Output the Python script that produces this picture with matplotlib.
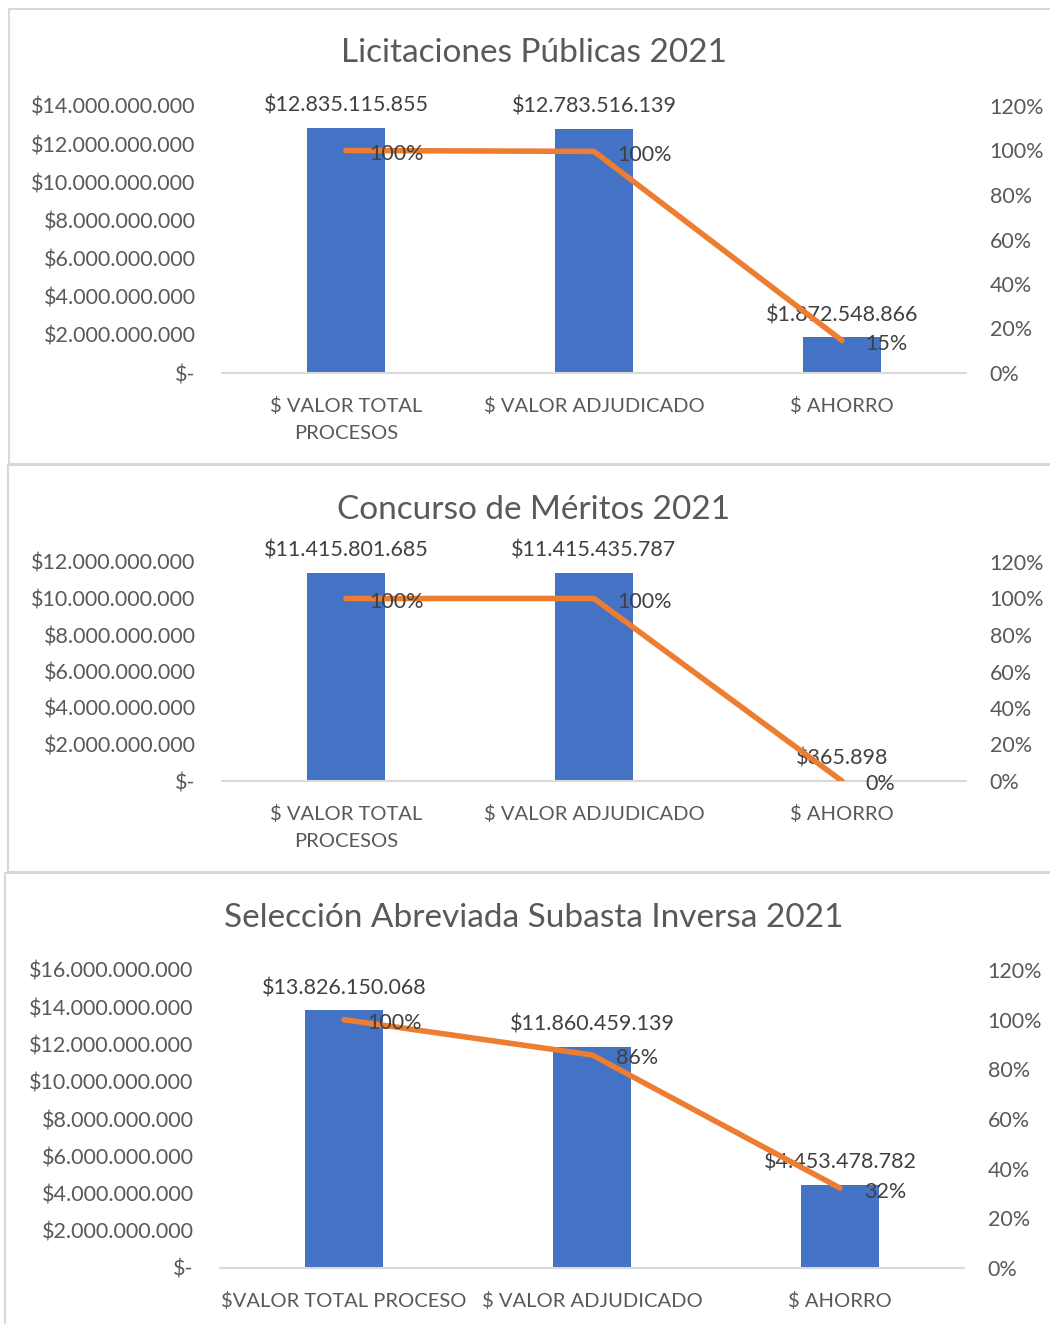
import matplotlib
matplotlib.use("Agg")
import matplotlib.pyplot as plt
from matplotlib.patches import Rectangle

plt.rcParams['font.family'] = ['Lato', 'DejaVu Sans']

# ---------------- data ----------------
titles = ["Licitaciones Públicas 2021",
          "Concurso de Méritos 2021",
          "Selección Abreviada Subasta Inversa 2021"]

categories_1 = ["$ VALOR TOTAL\nPROCESOS", "$ VALOR ADJUDICADO", "$ AHORRO"]
categories_2 = ["$ VALOR TOTAL\nPROCESOS", "$ VALOR ADJUDICADO", "$ AHORRO"]
categories_3 = ["$VALOR TOTAL PROCESO", "$ VALOR ADJUDICADO", "$ AHORRO"]

values_1 = [12835115855, 12783516139, 1872548866]
values_2 = [11415801685, 11415435787, 365898]
values_3 = [13826150068, 11860459139, 4453478782]

percent_1 = [1.00, 0.996, 0.146]
percent_2 = [1.00, 0.99997, 0.00003]
percent_3 = [1.00, 0.858, 0.322]

yticks_1 = [0, 2e9, 4e9, 6e9, 8e9, 10e9, 12e9, 14e9]
yticks_2 = [0, 2e9, 4e9, 6e9, 8e9, 10e9, 12e9]
yticks_3 = [0, 2e9, 4e9, 6e9, 8e9, 10e9, 12e9, 14e9, 16e9]
pct_ticks = [0, 0.2, 0.4, 0.6, 0.8, 1.0, 1.2]

# ---------------- style ----------------
W, H = 1050, 1324
BAR = "#4472C4"
LINE = "#ED7D31"
TXT = "#595959"
LBL = "#404040"
GRID = "#D9D9D9"
FS = 15.5
FSX = 14.5

fig = plt.figure(figsize=(W / 100, H / 100), dpi=100)


def frac_rect(left, top, right, bottom):
    return [left / W, 1 - bottom / H, (right - left) / W, (bottom - top) / H]


def money(v):
    if v == 0:
        return "$-"
    return "$" + f"{v:,.0f}".replace(",", ".")


# panel borders
for (l, t, r, b) in [(9, 9, 1060, 464), (8, 465, 1060, 872), (5, 873, 1060, 1340)]:
    fig.add_artist(Rectangle((l / W, 1 - b / H), (r - l) / W, (b - t) / H,
                             transform=fig.transFigure, fill=False,
                             edgecolor=GRID, linewidth=1.5))

panels = [
    (titles[0], categories_1, values_1, percent_1, yticks_1, (222, 106, 966, 373), 53),
    (titles[1], categories_2, values_2, percent_2, yticks_2, (222, 562, 966, 781), 510),
    (titles[2], categories_3, values_3, percent_3, yticks_3, (220, 970, 964, 1268), 918),
]

for title, cats, vals, pcts, yt, box, ty in panels:
    ax = fig.add_axes(frac_rect(*box))
    x = list(range(len(cats)))
    ax.bar(x, vals, width=0.315, color=BAR, zorder=2)
    ax.set_xlim(-0.5, 2.5)
    ax.set_ylim(yt[0], yt[-1])
    ax.set_yticks(yt)
    ax.set_yticklabels([money(v) for v in yt])
    ax.set_xticks(x)
    ax.set_xticklabels(cats, linespacing=1.75)
    ax.tick_params(axis='y', length=0, pad=19, labelsize=FS, labelcolor=TXT)
    ax.tick_params(axis='x', length=0, pad=17, labelsize=FSX, labelcolor=TXT)
    for s in ["top", "left", "right"]:
        ax.spines[s].set_visible(False)
    ax.spines["bottom"].set_color(GRID)
    ax.spines["bottom"].set_linewidth(1.5)
    for xi, v in zip(x, vals):
        ax.annotate(money(v), (xi, v), xytext=(0, 16), textcoords="offset points",
                    ha="center", va="center", fontsize=FS, color=LBL, zorder=3)

    ax2 = ax.twinx()
    ax2.plot(x, pcts, color=LINE, linewidth=4, solid_capstyle="round",
             solid_joinstyle="round", zorder=3)
    ax2.set_ylim(0, 1.2)
    ax2.set_yticks(pct_ticks)
    ax2.set_yticklabels([f"{p:.0%}" for p in pct_ticks])
    ax2.tick_params(axis='y', length=0, pad=17, labelsize=FS, labelcolor=TXT)
    for s in ["top", "left", "right", "bottom"]:
        ax2.spines[s].set_visible(False)
    for xi, p in zip(x, pcts):
        ax2.annotate(f"{p:.0%}", (xi, p), xytext=(17, -2.5), textcoords="offset points",
                     ha="left", va="center", fontsize=FS, color=LBL, zorder=4)

    fig.text(534 / W, 1 - ty / H, title,
             ha="center", va="center", fontsize=24, color=TXT)

fig.savefig("out.png", dpi=100)
